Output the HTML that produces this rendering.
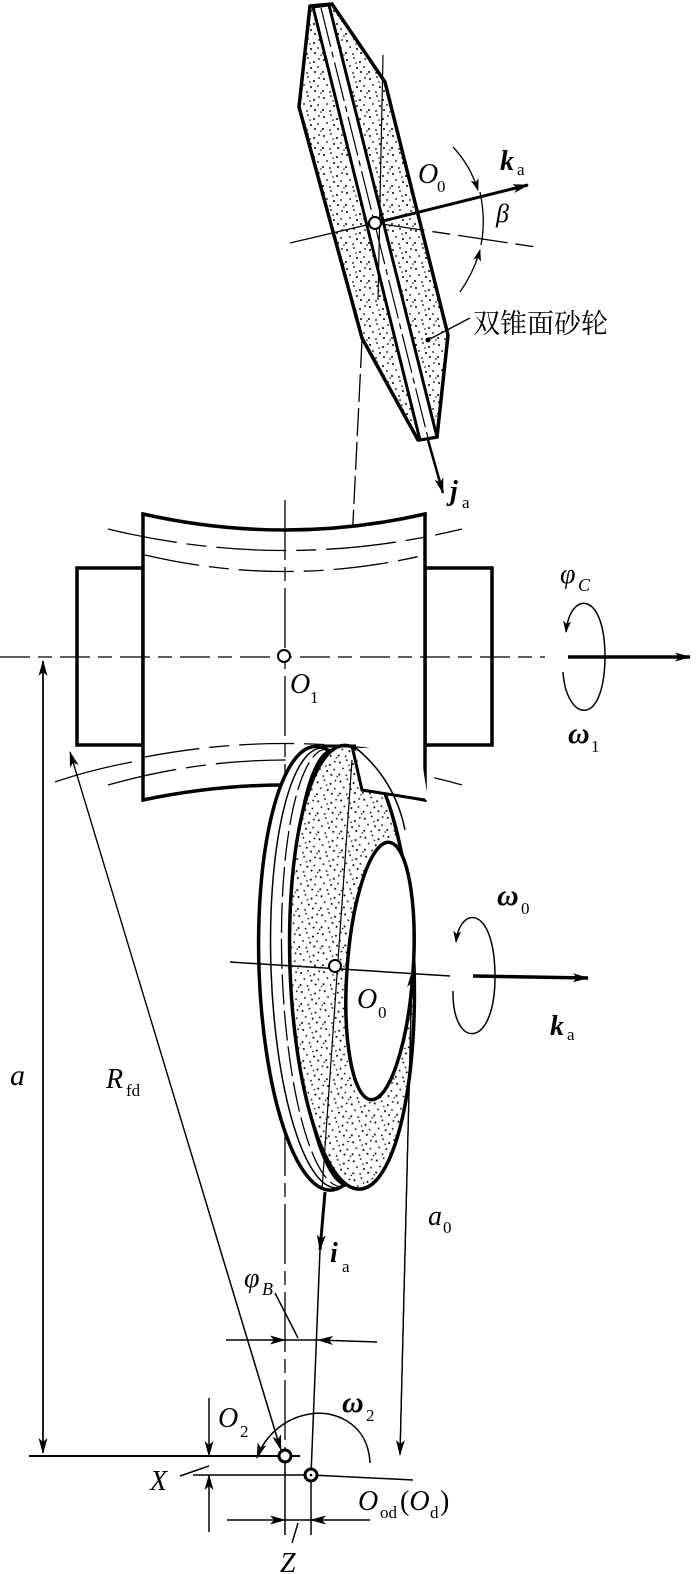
<!DOCTYPE html>
<html><head><meta charset="utf-8"><style>
html,body{margin:0;padding:0;background:#fff;}
svg{display:block;}
text{font-family:"Liberation Serif","Noto Serif CJK SC",serif;fill:#000;}
</style></head><body>
<svg width="700" height="1574" viewBox="0 0 700 1574" xmlns="http://www.w3.org/2000/svg">
<defs>
<pattern id="st" width="23" height="19" patternUnits="userSpaceOnUse">
<rect width="23" height="19" fill="#fff"/>
<g fill="#000">
<circle cx="2" cy="3" r="1"/><circle cx="9" cy="1" r="0.9"/><circle cx="15" cy="5" r="1"/><circle cx="20" cy="2" r="0.9"/>
<circle cx="5" cy="9" r="0.9"/><circle cx="12" cy="11" r="1"/><circle cx="19" cy="10" r="0.9"/><circle cx="1" cy="15" r="1"/>
<circle cx="8" cy="16" r="0.9"/><circle cx="16" cy="15" r="1"/><circle cx="22" cy="17" r="0.8"/><circle cx="11" cy="6" r="0.8"/>
</g></pattern>
<marker id="ar" viewBox="0 0 12 8" refX="11" refY="4" markerWidth="12" markerHeight="8" markerUnits="userSpaceOnUse" orient="auto">
<path d="M0,0 L12,4 L0,8 L3,4 z" fill="#000"/></marker>
<marker id="arL" viewBox="0 0 16 9" refX="15" refY="4.5" markerWidth="16" markerHeight="9" markerUnits="userSpaceOnUse" orient="auto">
<path d="M0,0 L16,4.5 L0,9 L4,4.5 z" fill="#000"/></marker>
</defs>

<!-- top wheel -->
<polygon points="310,6 332,4 385,82 448,335 437,437 418,440 362,338 299,107" fill="url(#st)" stroke="#000" stroke-width="3.5" stroke-linejoin="round"/>
<polygon points="313,7 329,5 437,437 420,440" fill="#fff" stroke="#000" stroke-width="3"/>
<line x1="321" y1="8" x2="428" y2="438" stroke="#000" stroke-width="1.2" stroke-dasharray="40,5,6,5"/>
<line x1="383" y1="55" x2="378" y2="300" stroke="#000" stroke-width="1.2"/>
<line x1="290" y1="243" x2="375" y2="223" stroke="#000" stroke-width="1.2"/>
<line x1="375" y1="223" x2="536" y2="247" stroke="#000" stroke-width="1.3" stroke-dasharray="50,8,18,8"/>
<line x1="375" y1="223" x2="528" y2="185" stroke="#000" stroke-width="3" marker-end="url(#arL)"/>
<line x1="428" y1="440" x2="443" y2="493" stroke="#000" stroke-width="2.5" marker-end="url(#arL)"/>
<circle cx="375" cy="223" r="6" fill="#fff" stroke="#000" stroke-width="2"/>
<path d="M453,147 Q470,165 478,190" fill="none" stroke="#000" stroke-width="1.3" marker-end="url(#ar)"/>
<path d="M480,192 Q486,220 481,245" fill="none" stroke="#000" stroke-width="1.3"/>
<path d="M460,292 Q474,272 480,250" fill="none" stroke="#000" stroke-width="1.3" marker-end="url(#ar)"/>
<circle cx="428" cy="340" r="2.5" fill="#000"/>
<line x1="428" y1="340" x2="470" y2="318" stroke="#000" stroke-width="1.3"/>
<text x="473" y="333" font-size="27">双锥面砂轮</text>
<text x="418" y="183" font-size="28" font-style="italic">O</text><text x="437" y="192" font-size="17">0</text>
<text x="500" y="170" font-size="28" font-style="italic" font-weight="bold">k</text><text x="517" y="175" font-size="17">a</text>
<text x="496" y="222" font-size="26" font-style="italic">β</text>
<text x="450" y="500" font-size="28" font-style="italic" font-weight="bold">j</text><text x="462" y="508" font-size="17">a</text>
<line x1="362" y1="340" x2="342" y2="745" stroke="#000" stroke-width="1.3" stroke-dasharray="28,6"/>

<!-- workpiece -->
<rect x="77" y="568" width="66" height="177" fill="none" stroke="#000" stroke-width="3.5"/>
<rect x="425" y="568" width="67" height="177" fill="none" stroke="#000" stroke-width="3.5"/>
<path d="M143,514 Q285,546 425,514 L425,800 Q285,770 143,800 Z" fill="#fff" stroke="#000" stroke-width="3.5"/>
<path d="M108,529 Q285,572 462,529" fill="none" stroke="#000" stroke-width="1.3" stroke-dasharray="70,10,20,10"/>
<path d="M145,555 Q285,588 425,555" fill="none" stroke="#000" stroke-width="1.3" stroke-dasharray="55,10,20,10"/>
<path d="M145,757 Q285,730 425,757" fill="none" stroke="#000" stroke-width="1.3" stroke-dasharray="55,10,20,10"/>
<path d="M108,785 Q285,735 462,785" fill="none" stroke="#000" stroke-width="1.3" stroke-dasharray="70,10,20,10"/>
<path d="M55,782 Q90,770 132,762" fill="none" stroke="#000" stroke-width="1.3"/>
<line x1="0" y1="657" x2="545" y2="657" stroke="#000" stroke-width="1.3" stroke-dasharray="30,8,14,8"/>
<line x1="568" y1="657" x2="690" y2="657" stroke="#000" stroke-width="3.5" marker-end="url(#arL)"/>
<line x1="285" y1="500" x2="285" y2="1460" stroke="#000" stroke-width="1.3" stroke-dasharray="60,7,14,7"/>
<circle cx="284" cy="656" r="6" fill="#fff" stroke="#000" stroke-width="2"/>
<text x="290" y="693" font-size="28" font-style="italic">O</text><text x="310" y="703" font-size="17">1</text>
<path d="M563,672 C566,720 603,730 605,660 C606,590 570,590 566,632" fill="none" stroke="#000" stroke-width="1.5" marker-end="url(#ar)"/>
<text x="560" y="583" font-size="28" font-style="italic">φ</text><text x="578" y="591" font-size="18" font-style="italic">C</text>
<text x="568" y="743" font-size="30" font-style="italic" font-weight="bold">ω</text><text x="591" y="752" font-size="17">1</text>

<!-- lower wheel -->
<g transform="rotate(-2 330 968)">
<ellipse cx="323" cy="968" rx="64" ry="222" fill="#fff" stroke="#000" stroke-width="3.5"/>
<ellipse cx="329" cy="968" rx="58" ry="220" fill="none" stroke="#000" stroke-width="1.5"/>
<ellipse cx="334" cy="968" rx="52" ry="219" fill="none" stroke="#000" stroke-width="1.3" stroke-dasharray="30,6"/>
<ellipse cx="341" cy="968" rx="48" ry="218" fill="none" stroke="#000" stroke-width="2.5"/>
<ellipse cx="352" cy="968" rx="62" ry="222" fill="url(#st)" stroke="#000" stroke-width="3.5"/>
</g>
<ellipse cx="380" cy="971" rx="33" ry="129" transform="rotate(4 380 971)" fill="#fff" stroke="#000" stroke-width="3.5"/>
<polygon points="356,748 420,748 428,800 362,790" fill="#fff"/>
<path d="M352,746 L362,790 L425,800" fill="none" stroke="#000" stroke-width="3"/>
<path d="M356,748 Q395,780 405,830" fill="none" stroke="#000" stroke-width="1.5"/>
<line x1="322" y1="746" x2="356" y2="746" stroke="#000" stroke-width="3"/>
<line x1="352" y1="760" x2="322" y2="1190" stroke="#000" stroke-width="1.2"/>
<line x1="230" y1="962" x2="450" y2="976" stroke="#000" stroke-width="1.5"/>
<line x1="473" y1="976" x2="588" y2="978" stroke="#000" stroke-width="3.5" marker-end="url(#arL)"/>
<circle cx="335" cy="966" r="6" fill="#fff" stroke="#000" stroke-width="2"/>
<text x="357" y="1008" font-size="28" font-style="italic">O</text><text x="378" y="1018" font-size="17">0</text>
<path d="M453,991 C452,1050 495,1050 495,977 C495,905 460,905 456,942" fill="none" stroke="#000" stroke-width="1.5" marker-end="url(#ar)"/>
<text x="497" y="905" font-size="30" font-style="italic" font-weight="bold">ω</text><text x="521" y="914" font-size="17">0</text>
<text x="550" y="1035" font-size="28" font-style="italic" font-weight="bold">k</text><text x="567" y="1040" font-size="17">a</text>

<line x1="325" y1="1192" x2="320" y2="1250" stroke="#000" stroke-width="3" marker-end="url(#arL)"/>
<line x1="320" y1="1250" x2="311" y2="1475" stroke="#000" stroke-width="1.5"/>
<text x="330" y="1262" font-size="28" font-style="italic" font-weight="bold">i</text><text x="342" y="1272" font-size="17">a</text>

<line x1="43" y1="1452" x2="43" y2="661" stroke="#000" stroke-width="1.5" marker-end="url(#arL)"/>
<line x1="43" y1="661" x2="43" y2="1453" stroke="#000" stroke-width="1.5" marker-end="url(#arL)"/>
<line x1="29" y1="1456" x2="285" y2="1456" stroke="#000" stroke-width="2"/>
<text x="10" y="1085" font-size="30" font-style="italic">a</text>
<line x1="280" y1="1448" x2="70" y2="752" stroke="#000" stroke-width="1.2" marker-end="url(#arL)"/>
<line x1="70" y1="752" x2="281" y2="1450" stroke="#000" stroke-width="1.2" marker-end="url(#arL)"/>
<text x="106" y="1088" font-size="28" font-style="italic">R</text><text x="126" y="1096" font-size="17">fd</text>
<line x1="400" y1="1453" x2="412" y2="972" stroke="#000" stroke-width="1.3" marker-end="url(#arL)"/>
<line x1="412" y1="972" x2="400" y2="1455" stroke="#000" stroke-width="1.3" marker-end="url(#arL)"/>
<text x="428" y="1225" font-size="28" font-style="italic">a</text><text x="443" y="1233" font-size="17">0</text>
<line x1="226" y1="1340" x2="285" y2="1340" stroke="#000" stroke-width="1.5" marker-end="url(#arL)"/>
<line x1="377" y1="1342" x2="318" y2="1340" stroke="#000" stroke-width="1.5" marker-end="url(#arL)"/>
<line x1="285" y1="1340" x2="318" y2="1340" stroke="#000" stroke-width="1.5"/>
<line x1="275" y1="1293" x2="298" y2="1338" stroke="#000" stroke-width="1.5"/>
<text x="244" y="1287" font-size="28" font-style="italic">φ</text><text x="262" y="1295" font-size="18" font-style="italic">B</text>
<line x1="285" y1="1460" x2="285" y2="1535" stroke="#000" stroke-width="1.5"/>
<line x1="311" y1="1475" x2="311" y2="1535" stroke="#000" stroke-width="1.5"/>
<line x1="193" y1="1475" x2="311" y2="1475" stroke="#000" stroke-width="1.5"/>
<line x1="311" y1="1475" x2="413" y2="1480" stroke="#000" stroke-width="1.5"/>
<line x1="285" y1="1456" x2="300" y2="1456" stroke="#000" stroke-width="2"/>
<circle cx="285" cy="1456" r="6" fill="#fff" stroke="#000" stroke-width="3"/>
<circle cx="311" cy="1475" r="6" fill="#fff" stroke="#000" stroke-width="3"/>
<circle cx="311" cy="1475" r="1.3" fill="#000"/>
<line x1="209" y1="1398" x2="209" y2="1456" stroke="#000" stroke-width="1.5" marker-end="url(#arL)"/>
<line x1="209" y1="1532" x2="209" y2="1475" stroke="#000" stroke-width="1.5" marker-end="url(#arL)"/>
<line x1="180" y1="1476" x2="209" y2="1466" stroke="#000" stroke-width="1.5"/>
<text x="150" y="1490" font-size="28" font-style="italic">X</text>
<line x1="227" y1="1520" x2="285" y2="1520" stroke="#000" stroke-width="1.5" marker-end="url(#arL)"/>
<line x1="370" y1="1520" x2="311" y2="1520" stroke="#000" stroke-width="1.5" marker-end="url(#arL)"/>
<line x1="285" y1="1520" x2="311" y2="1520" stroke="#000" stroke-width="1.5"/>
<line x1="298" y1="1523" x2="292" y2="1543" stroke="#000" stroke-width="1.5"/>
<text x="280" y="1572" font-size="28" font-style="italic">Z</text>
<path d="M370,1463 C368,1420 330,1410 310,1414 C285,1418 265,1435 257,1458" fill="none" stroke="#000" stroke-width="1.5" marker-end="url(#arL)"/>
<text x="218" y="1427" font-size="28" font-style="italic">O</text><text x="240" y="1437" font-size="17">2</text>
<text x="342" y="1412" font-size="30" font-style="italic" font-weight="bold">ω</text><text x="366" y="1421" font-size="17">2</text>
<text x="358" y="1510" font-size="28" font-style="italic">O</text><text x="380" y="1518" font-size="17">od</text><text x="400" y="1510" font-size="28">(<tspan font-style="italic">O</tspan></text><text x="430" y="1518" font-size="17">d</text><text x="440" y="1510" font-size="28">)</text>
</svg>
</body></html>
